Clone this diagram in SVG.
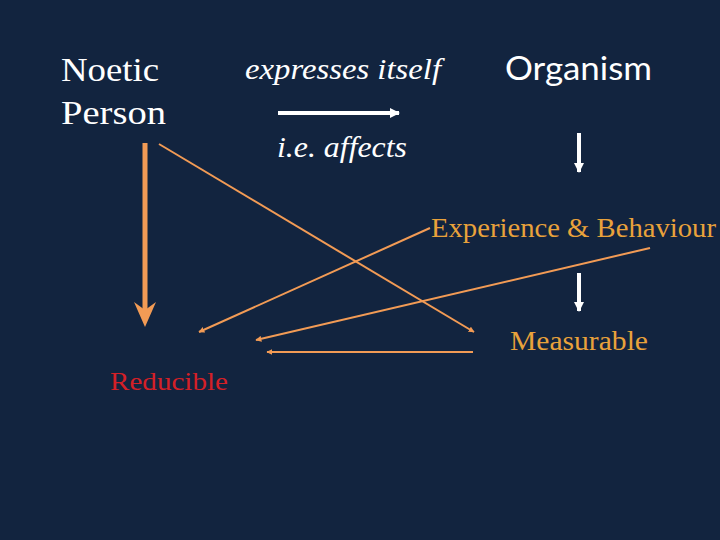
<svg xmlns="http://www.w3.org/2000/svg" width="720" height="540" viewBox="0 0 720 540">
<style>
.w{fill:#ffffff;font-family:"Liberation Serif",serif}
.o{fill:#E9A23B;font-family:"Liberation Serif",serif;font-size:27px}
.ol{stroke:#F29B55;stroke-width:2;fill:none}
.wl{stroke:#ffffff;stroke-width:4;fill:none}
text{lengthAdjust:spacingAndGlyphs}
</style>
<defs>
<marker id="ah" viewBox="0 0 10 10" refX="9" refY="5" markerWidth="3" markerHeight="3" orient="auto" markerUnits="strokeWidth"><path d="M0,0L10,5L0,10z" fill="#F29B55"/></marker>
<marker id="wh" viewBox="0 0 10 10" refX="9" refY="5" markerWidth="2.5" markerHeight="2.5" orient="auto" markerUnits="strokeWidth"><path d="M0,0L10,5L0,10z" fill="#ffffff"/></marker>
</defs>
<rect width="720" height="540" fill="#12243F"/>
<g id="noetic"><text class="w" x="61" y="81" font-size="34" textLength="98" lengthAdjust="spacingAndGlyphs">Noetic</text><text class="w" x="61" y="124" font-size="34" textLength="105" lengthAdjust="spacingAndGlyphs">Person</text></g>
<g id="expresses"><text class="w" x="245" y="79" font-size="29" font-style="italic" textLength="196" lengthAdjust="spacingAndGlyphs">expresses itself</text><text class="w" x="277" y="157" font-size="29" font-style="italic" textLength="130" lengthAdjust="spacingAndGlyphs">i.e. affects</text></g>
<g id="organism"><text class="w" x="505" y="80" font-size="33" style="font-family:Lato,'Open Sans',sans-serif" textLength="147" lengthAdjust="spacingAndGlyphs">Organism</text></g>
<g id="experience"><text class="o" x="431" y="237" textLength="285" lengthAdjust="spacingAndGlyphs">Experience &amp; Behaviour</text></g>
<g id="measurable"><text class="o" x="510" y="350" textLength="138" lengthAdjust="spacingAndGlyphs">Measurable</text></g>
<g id="reducible"><text x="110" y="390" font-size="26" fill="#D42027" font-family="Liberation Serif,serif" textLength="118" lengthAdjust="spacingAndGlyphs">Reducible</text></g>
<g id="connectors">
<line class="wl" x1="278" y1="113" x2="399" y2="113" marker-end="url(#wh)"/>
<line class="wl" x1="579" y1="133" x2="579" y2="172" marker-end="url(#wh)"/>
<line class="wl" x1="579" y1="273" x2="579" y2="311" marker-end="url(#wh)"/>
<line x1="145" y1="143" x2="145" y2="312" stroke="#F29B55" stroke-width="5"/>
<path d="M134,302 L145,327 L156,302 L145,310 z" fill="#F29B55"/>
<line class="ol" x1="159" y1="144" x2="474" y2="332" marker-end="url(#ah)"/>
<line class="ol" x1="430" y1="228" x2="199" y2="332" marker-end="url(#ah)"/>
<line class="ol" x1="650" y1="248" x2="256" y2="340" marker-end="url(#ah)"/>
<line class="ol" x1="473" y1="352" x2="267" y2="352" marker-end="url(#ah)"/>
</g>
</svg>
